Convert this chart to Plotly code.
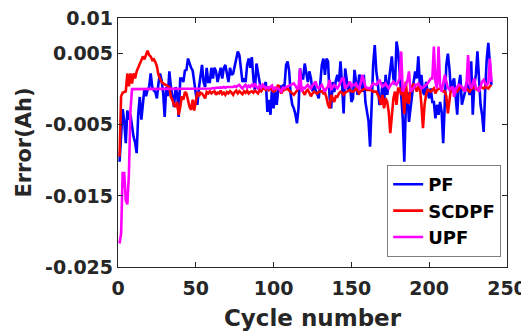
import plotly.graph_objects as go

cycles = list(range(1, 241))

# Errors in mAh (converted to Ah below)
pf_mAh = [
    -10.2, -6.0, -2.8, -4.5, -7.6, -3.0, -4.3, -3.6, -5.3, -6.7,
    -7.5, -9.0, -3.5, -1.1, -4.3, -1.5, 0.1, -1.0, -0.1, 0.3,
    2.2, 0.3, -0.2, -0.4, -1.3, 0.8, 2.2, 1.3, -0.5, -3.9,
    0.3, -1.0, 2.5, 0.3, -1.5, -2.5, 0.3, -0.6, -3.9, 1.5,
    1.5, 1.0, 2.6, 2.7, 4.3, 3.6, 3.0, 2.6, 1.0, -0.3,
    -2.2, 0.2, 2.0, 3.4, 1.0, 0.3, 3.0, 1.0, 1.0, 3.0,
    1.5, 3.0, 2.5, 1.0, 2.0, 3.0, 1.5, 3.0, 3.4, 2.0,
    1.0, 3.0, 2.0, 2.2, 3.4, 4.5, 5.3, 4.8, 3.0, 1.0,
    1.5, 1.0, 3.4, 4.3, 3.0, 4.5, 1.5, -0.3, 3.6, 2.0,
    1.0, -0.3, 0.1, 0.5, 1.0, -3.2, -1.5, -3.6, 0.3, -2.7,
    -0.3, -2.2, 0.0, 0.5, -0.5, 0.6, 0.4, 3.4, 3.9, 2.5,
    -0.8, -2.2, -2.7, -3.5, -4.8, -2.7, 2.9, 1.5, 1.5, 3.6,
    2.0, 1.0, 2.5, 1.5, -0.3, 0.6, -0.1, -0.8, -1.3, 0.8,
    3.4, 4.3, 2.0, 4.3, 3.9, -1.3, -2.7, 1.0, -0.4, 1.2,
    2.0, 1.0, 3.9, 0.6, -3.4, 2.9, 1.5, -0.3, 1.0, -1.8,
    -1.3, 2.7, 1.0, -0.8, 2.0, 1.8, -0.4, 2.0, -1.8, -3.4,
    -4.5, -8.1, -1.8, 3.4, 6.2, 2.5, 1.0, -2.2, -1.8, 1.0,
    -2.2, 2.0, -0.8, 1.0, 3.0, 4.6, 1.5, 0.6, 6.7, 5.3,
    2.5, -0.4, -4.1, -10.2, -2.2, -0.4, -4.6, -2.7, -0.4, 1.0,
    2.5, 1.5, 4.6, 0.6, 2.0, -0.4, -0.8, 1.0, -0.4, -1.3,
    0.1, -1.8, -1.8, -4.1, -2.2, -3.6, -1.8, -3.2, -7.6, -0.4,
    3.4, 5.0, 2.9, -0.4, 1.0, 1.5, -1.0, -3.6, 0.6, 2.0,
    -2.2, -1.3, -0.4, 1.0, 0.1, -0.8, 3.9, -3.6, 0.6, 2.0,
    5.3, 1.5, -2.2, -3.6, -6.0, 0.0, 4.3, 6.5, 4.0, 0.6,
]

scdpf_mAh = [
    -9.5, -1.0, -0.5, -0.4, -0.3, 2.2, 0.4, 2.2, 0.8, 2.2,
    1.5, 2.5, 3.0, 3.6, 4.0, 4.6, 4.2, 4.8, 5.4, 4.8,
    4.6, 4.1, 4.2, 3.8, 3.2, 2.0, 1.5, 1.0, 0.8, 0.7,
    0.6, 0.5, 0.3, -1.1, -1.5, -2.2, -2.5, -1.8, -3.6, -2.5,
    -1.0, -1.5, -0.4, -0.6, -1.5, -2.5, -2.9, -1.5, -3.0, -1.5,
    -0.4, -1.0, -0.5, -0.6, -1.0, -1.3, -0.4, -0.6, -0.3, -0.6,
    -0.4, -0.3, -0.8, -0.5, -0.6, -0.2, -0.7, -0.5, -0.8, -0.4,
    -0.6, -0.3, -0.5, -0.8, -0.4, -0.2, -0.6, -0.3, -0.5, -0.7,
    -0.3, -0.5, -0.2, -0.6, -0.4, -0.3, -0.5, -0.2, -0.4, -0.6,
    -0.1, -0.3, 0.1, 0.1, -0.1, 0.3, -0.1, 0.2, -0.1, -0.35,
    -0.2, 0.3, 0.6, -0.2, -0.6, -0.2, -0.1, 0.0, 0.1, -0.2,
    -0.35, -0.6, -0.8, -0.5, -0.35, 0.1, 0.1, 0.0, -0.4, -0.8,
    -0.3, -0.1, -0.5, -1.0, -0.6, -0.35, -0.5, -0.6, -0.4, -0.35,
    -0.3, -0.6, -0.5, -1.2, -2.2, -2.7, -0.8, -1.3, -1.8, -1.0,
    -1.06, -0.6, -0.35, -0.5, -0.8, -0.5, -0.35, -0.2, -0.1, -0.3,
    -0.35, -0.2, 0.1, -0.2, -0.6, -0.3, -0.1, 0.0, 0.1, -0.1,
    -0.1, -0.1, -0.2, -0.35, -0.3, -0.35, -0.8, -1.3, -2.2, -0.8,
    -2.7, -1.3, -1.8, -3.2, -6.2, -3.2, -1.3, -0.35, -2.2, 0.1,
    0.1, -0.8, -0.35, -3.5, 1.05, -1.8, -2.0, 0.6, -0.35, 0.8,
    0.1, -0.35, 0.35, 0.3, -2.2, -5.5, -2.2, -0.8, -0.1, -0.2,
    -0.35, -0.1, 0.1, -0.6, -0.1, 0.0, 0.1, 0.0, -0.35, -0.3,
    -1.0, -3.4, -1.3, 0.1, 0.0, -0.1, -0.2, -0.35, 0.0, 0.35,
    0.2, -0.1, 0.0, 0.1, -0.2, -0.35, 0.0, 0.35, 0.1, 0.1,
    -0.1, 0.2, 0.35, 0.2, 0.1, 0.35, 0.2, 0.1, 0.4, 0.6,
]

upf_mAh = [
    -21.7, -20.3, -11.8, -11.8, -15.6, -16.2, -12.0, -3.0, 0.0, 0.0,
    0.0, 0.0, 0.0, 0.0, 0.0, 0.0, 0.0, 0.0, 0.0, 0.0,
    0.02, 0.02, 0.02, 0.02, 0.02, 0.02, 0.02, 0.02, 0.02, 0.02,
    0.05, 0.05, 0.05, 0.05, 0.05, 0.05, 0.05, 0.05, 0.05, 0.05,
    0.05, 0.05, 0.05, 0.05, 0.05, 0.05, 0.05, 0.05, 0.05, 0.05,
    0.1, 0.1, 0.1, 0.1, 0.1, 0.1, 0.1, 0.1, 0.1, 0.1,
    0.15, 0.1, 0.2, 0.15, 0.2, 0.25, 0.2, 0.3, 0.2, 0.3,
    0.3, 0.25, 0.35, 0.3, 0.4, 0.3, 0.5, 0.6, 0.3, 0.1,
    0.4, 0.6, 0.2, 0.5, 0.3, 0.6, 0.4, 0.8, 0.3, 0.1,
    0.5, 0.2, 0.6, 0.35, 0.1, 0.3, 0.1, 0.35, 0.5, -0.1,
    0.2, 0.1, 0.1, -0.1, -0.35, 0.2, 0.1, 0.3, 0.35, 0.5,
    0.6, 0.7, 0.8, 0.5, 0.1, 0.1, 2.9, -0.35, 0.2, 0.1,
    0.4, 0.6, 0.3, 0.1, 0.5, 0.8, 1.05, 0.3, 0.1, 0.4,
    0.6, 0.1, -0.35, 0.1, 0.35, 1.3, -0.1, 0.3, 0.6, 0.3,
    0.1, 0.5, 1.0, 1.5, 1.5, 0.1, 0.35, 0.6, 1.05, 0.4,
    0.6, 0.6, 0.8, 0.3, 0.1, 0.8, 2.0, 1.0, 0.35, 0.2,
    0.1, 0.1, 0.5, 0.8, 0.7, 0.6, 0.9, 1.3, 0.8, 0.35,
    0.5, 0.8, 0.4, 0.1, 0.5, 0.8, 1.05, 0.8, 0.6, 1.0,
    1.5, 5.3, -0.35, 0.2, 0.6, 1.2, 2.5, -0.35, 0.0, 0.1,
    0.6, 0.6, 0.8, 0.4, 0.1, 0.2, 0.35, 0.6, 0.8, 1.2,
    1.5, 1.5, 6.0, 1.05, 0.1, 6.0, 0.6, -0.35, 0.8, 2.0,
    1.05, 0.2, -0.1, 0.2, 0.35, -1.06, 0.1, 0.3, 0.6, 0.5,
    0.35, 0.0, -0.35, 0.8, 4.8, 0.6, 0.1, 0.8, 1.5, 0.1,
    0.1, -0.35, 0.5, 1.05, 1.3, 0.8, 0.6, 0.8, 4.3, 1.0,
]

y_tickvals = [0.01, 0.005, -0.005, -0.015, -0.025]
y_ticktext = ["0.01", "0.005", "-0.005", "-0.015", "-0.025"]
x_tickvals = [0, 50, 100, 150, 200, 250]

series = [
    ("PF", pf_mAh, "#0000FF"),
    ("SCDPF", scdpf_mAh, "#FF0000"),
    ("UPF", upf_mAh, "#FF00FF"),
]

fig = go.Figure()
for name, vals, color in series:
    fig.add_trace(go.Scatter(
        x=cycles, y=[v / 1000.0 for v in vals], mode="lines", name=name,
        line=dict(color=color, width=2.6),
    ))

axis_color = "#262626"
tick_font = dict(family="DejaVu Sans", size=19, color=axis_color, weight="bold")

# page body has an 8px default margin, so the figure is sized/offset to fit
fig.update_layout(
    width=521, height=323,
    margin=dict(l=110, r=22, t=10, b=64, autoexpand=False),
    paper_bgcolor="white", plot_bgcolor="white",
    showlegend=True,
    legend=dict(
        x=0.985, y=0.04, xanchor="right", yanchor="bottom",
        bgcolor="white", bordercolor="#808080", borderwidth=1,
        font=dict(family="DejaVu Sans", size=18, color="black", weight="bold"),
        tracegroupgap=0,
    ),
)

fig.update_xaxes(
    range=[0, 250], tickvals=x_tickvals, ticks="inside", ticklen=5,
    tickcolor=axis_color, tickwidth=1.2, automargin=False,
    showline=True, linecolor=axis_color, linewidth=1.3, mirror="ticks",
    showgrid=False, zeroline=False, tickfont=tick_font,
    ticklabelstandoff=4, ticklabeloverflow="allow",
    title=dict(text="Cycle number", standoff=11,
               font=dict(family="DejaVu Sans", size=23, color=axis_color, weight="bold")),
)
fig.update_yaxes(
    range=[-0.025, 0.01], tickvals=y_tickvals, ticktext=y_ticktext,
    ticks="inside", ticklen=5, tickcolor=axis_color, tickwidth=1.2,
    showline=True, linecolor=axis_color, linewidth=1.3, mirror="ticks",
    showgrid=False, zeroline=False, tickfont=tick_font, automargin=False,
    ticklabelstandoff=0, ticklabeloverflow="allow",
    title=dict(text="Error(Ah)", standoff=7,
               font=dict(family="DejaVu Sans", size=21, color=axis_color, weight="bold")),
)

fig.write_html("out.html")
